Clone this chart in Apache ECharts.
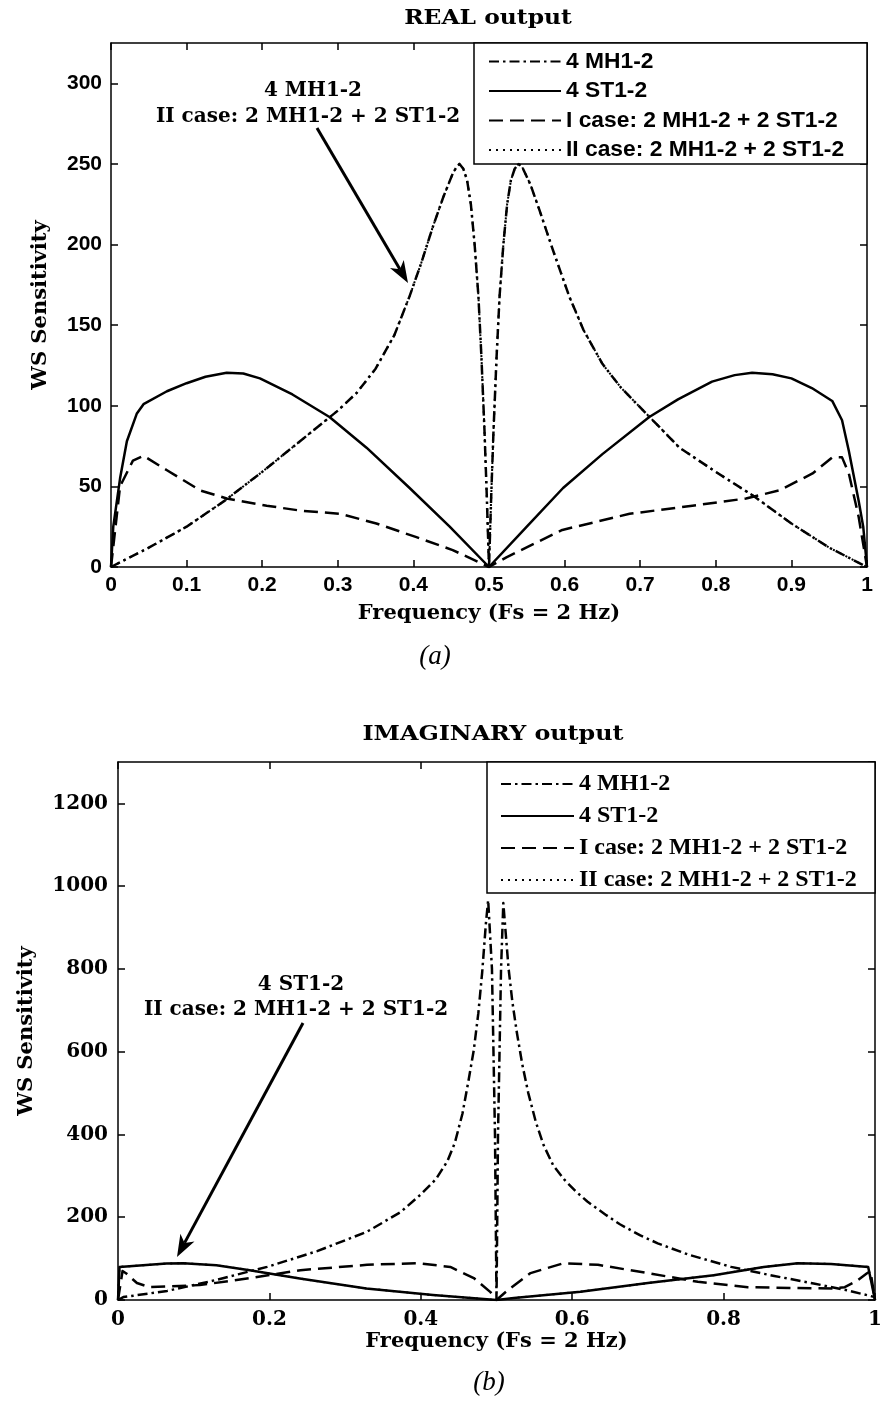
<!DOCTYPE html>
<html>
<head>
<meta charset="utf-8">
<title>WS Sensitivity</title>
<script src="https://cdn.jsdelivr.net/npm/echarts@6/dist/echarts.min.js"></script>
<style>
html, body { margin: 0; padding: 0; background: #fff; }
#chart { width: 881px; height: 1410px; }
</style>
</head>
<body>
<div id="chart"></div>
<script>
// (a) REAL output -- frequency / sensitivity pairs
const realFreqMh = [0, 0.05, 0.1, 0.15, 0.2, 0.25, 0.3, 0.325, 0.35, 0.375, 0.395, 0.41, 0.425, 0.44, 0.452, 0.457, 0.461, 0.466, 0.471, 0.476, 0.481, 0.486, 0.49, 0.494, 0.497, 0.5, 0.503, 0.506, 0.51, 0.514, 0.519, 0.524, 0.529, 0.534, 0.539, 0.544, 0.555, 0.567, 0.585, 0.606, 0.625, 0.65, 0.675, 0.7, 0.725, 0.752, 0.8, 0.85, 0.9, 0.95, 1]
const realValMh = [0, 12, 25, 41, 59, 78, 97, 108, 123, 144, 168, 188, 210, 230, 244, 248, 250, 247, 240, 225, 200, 168, 130, 85, 45, 0, 45, 85, 130, 168, 200, 225, 240, 247, 250, 248, 237, 221, 196, 168, 147, 126, 111, 99, 87, 74, 59, 44, 27, 12, 0]

const realFreqSt = [0, 0.003, 0.012, 0.021, 0.034, 0.043, 0.074, 0.1, 0.125, 0.153, 0.175, 0.197, 0.24, 0.289, 0.338, 0.395, 0.448, 0.5, 0.55, 0.598, 0.65, 0.712, 0.75, 0.795, 0.825, 0.848, 0.875, 0.9, 0.927, 0.954, 0.967, 0.976, 0.989, 0.995, 1]
const realValSt = [0, 25, 55, 78, 95, 101, 109, 114, 118, 120.5, 120, 117, 107, 93, 74, 49, 25, 0, 25, 49, 70, 93, 104, 115, 119, 120.5, 119.5, 117, 111, 103, 91, 72, 41, 25, 0]

const realFreqI = [0, 0.012, 0.029, 0.043, 0.074, 0.118, 0.153, 0.206, 0.25, 0.303, 0.351, 0.404, 0.452, 0.5, 0.523, 0.597, 0.686, 0.769, 0.84, 0.884, 0.928, 0.954, 0.967, 0.976, 0.989, 1]
const realValI = [0, 50, 66, 69, 60, 47.5, 42.5, 38, 35, 33, 27, 18.5, 10.5, 0, 6, 23, 33, 38, 42.5, 47.5, 58, 68, 68, 58, 31, 0]

// II case lies exactly on 4 MH1-2 here (that's what the arrow says)
const realFreqII = realFreqMh
const realValII = realValMh

// (b) IMAGINARY output
const imagFreqMh = [0, 0.007, 0.065, 0.122, 0.197, 0.263, 0.329, 0.373, 0.4, 0.42, 0.435, 0.445, 0.455, 0.463, 0.47, 0.476, 0.481, 0.486, 0.489, 0.494, 0.498, 0.5, 0.502, 0.506, 0.509, 0.512, 0.516, 0.521, 0.527, 0.534, 0.542, 0.552, 0.562, 0.575, 0.59, 0.605, 0.62, 0.645, 0.663, 0.69, 0.713, 0.753, 0.81, 0.867, 0.919, 0.964, 1]
const imagValMh = [0, 7, 22, 45, 80, 118, 165, 212, 255, 292, 335, 380, 450, 530, 604, 693, 790, 910, 966, 800, 400, 0, 400, 800, 959, 890, 800, 720, 645, 570, 500, 430, 375, 325, 290, 262, 238, 205, 183, 156, 137, 110, 80, 58, 40, 23, 7]

const imagFreqSt = [0, 0.002, 0.064, 0.086, 0.13, 0.174, 0.24, 0.328, 0.416, 0.5, 0.523, 0.611, 0.7, 0.787, 0.853, 0.898, 0.942, 0.991, 1]
const imagValSt = [0, 80, 88, 89, 84, 72, 52, 28, 12, 0, 5, 20, 41, 60, 80, 89, 87, 80, 0]

const imagFreqI = [0, 0.006, 0.011, 0.025, 0.042, 0.108, 0.175, 0.241, 0.329, 0.395, 0.439, 0.47, 0.492, 0.5, 0.515, 0.545, 0.589, 0.634, 0.7, 0.766, 0.832, 0.898, 0.946, 0.96, 0.975, 0.989, 0.994, 1]
const imagValI = [0, 70, 64, 41, 31, 36, 53, 72, 85, 89, 80, 53, 19, 0, 24, 65, 89, 85, 65, 44, 31, 29, 28, 31, 45, 64, 70, 0]

// here II case follows 4 ST1-2
const imagFreqII = imagFreqSt
const imagValII = imagValSt

const seriesNames = ['4 MH1-2', '4 ST1-2', 'I case: 2 MH1-2 + 2 ST1-2', 'II case: 2 MH1-2 + 2 ST1-2']

const sansBold = "'Liberation Sans', Arial, sans-serif"
const wideSerif = "'DejaVu Serif', serif"
const timesSerif = "'Liberation Serif', 'Times New Roman', serif"

// line looks, one per curve
const dashDot = [10, 4, 2.5, 4]
const dashed = [14, 7]
const dotted = [2, 5]

function pairs(fs, vs) {
  return fs.map((f, i) => [f, vs[i]])
}

function curve(name, fs, vs, type, grid, width) {
  return {
    name: name,
    type: 'line',
    xAxisIndex: grid * 2,
    yAxisIndex: grid * 2,
    data: pairs(fs, vs),
    symbol: 'none',
    showSymbol: false,
    silent: true,
    lineStyle: { color: '#000', width: width || 2.5, type: type, join: 'round' },
    itemStyle: { color: '#000' }
  }
}

// matlab style box: axis on every side, ticks pointing in
function boxAxis(grid, pos, min, max, interval, labels, font, fontSize, margin) {
  const isY = pos === 'left' || pos === 'right'
  return {
    type: 'value',
    gridIndex: grid,
    position: pos,
    min: min,
    max: max,
    interval: interval,
    axisLine: { show: true, onZero: false, lineStyle: { color: '#000', width: 1.5 } },
    axisTick: { show: true, inside: true, length: 7, lineStyle: { color: '#000', width: 1.5 } },
    splitLine: { show: false },
    axisLabel: {
      show: labels,
      showMinLabel: true,
      showMaxLabel: !isY,
      formatter: v => String(v),
      color: '#000',
      fontFamily: font,
      fontWeight: 'bold',
      fontSize: fontSize,
      margin: margin
    }
  }
}

function named(axis, name, gap) {
  axis.name = name
  axis.nameLocation = 'middle'
  axis.nameGap = gap
  axis.nameTextStyle = { color: '#000', fontFamily: wideSerif, fontWeight: 'bold', fontSize: 21 }
  return axis
}

function txt(x, y, text, font, sx) {
  return {
    type: 'text',
    x: x,
    y: y,
    scaleX: sx || 1,
    z: 10,
    silent: true,
    style: { text: text, fill: '#000', font: font, align: 'center', verticalAlign: 'middle' }
  }
}

// arrow: shaft + notched head, pixel coords of tail and tip
function arrowShape(x0, y0, x1, y1) {
  const len = Math.hypot(x1 - x0, y1 - y0)
  const ux = (x1 - x0) / len, uy = (y1 - y0) / len
  const nx = -uy, ny = ux
  const head = 22, half = 8, notch = 16
  const bx = x1 - head * ux, by = y1 - head * uy
  return [
    { type: 'line', z: 10, silent: true, shape: { x1: x0, y1: y0, x2: x1 - notch * ux, y2: y1 - notch * uy }, style: { stroke: '#000', lineWidth: 3 } },
    { type: 'polygon', z: 10, silent: true, shape: { points: [[x1, y1], [bx + half * nx, by + half * ny], [x1 - notch * ux, y1 - notch * uy], [bx - half * nx, by - half * ny]] }, style: { fill: '#000' } }
  ]
}

const chart = echarts.init(document.getElementById('chart'))

const option = {
  animation: false,
  backgroundColor: '#fff',
  grid: [
    { left: 111, top: 43, width: 756, height: 524, outerBoundsMode: 'none' },
    { left: 118, top: 762, width: 757, height: 538, outerBoundsMode: 'none' }
  ],
  xAxis: [
    named(boxAxis(0, 'bottom', 0, 1, 0.1, true, sansBold, 21, 8), 'Frequency (Fs = 2 Hz)', 36),
    boxAxis(0, 'top', 0, 1, 0.1, false),
    named(boxAxis(1, 'bottom', 0, 1, 0.2, true, wideSerif, 20, 10), 'Frequency (Fs = 2 Hz)', 26),
    boxAxis(1, 'top', 0, 1, 0.2, false)
  ],
  yAxis: [
    named(boxAxis(0, 'left', 0, 325, 50, true, sansBold, 21, 9), 'WS Sensitivity', 60),
    boxAxis(0, 'right', 0, 325, 50, false),
    named(boxAxis(1, 'left', 0, 1300, 200, true, wideSerif, 20, 10), 'WS Sensitivity', 81),
    boxAxis(1, 'right', 0, 1300, 200, false)
  ],
  legend: [
    {
      data: seriesNames,
      orient: 'vertical',
      left: 488,
      top: 50,
      padding: 0,
      itemWidth: 72,
      itemHeight: 14,
      itemGap: 6.5,
      selectedMode: false,
      itemStyle: { opacity: 0 },
      textStyle: { color: '#000', fontFamily: sansBold, fontWeight: 'bold', fontSize: 22.8 }
    },
    {
      data: seriesNames,
      orient: 'vertical',
      left: 500,
      top: 772,
      padding: 0,
      itemWidth: 73,
      itemHeight: 14,
      itemGap: 8,
      selectedMode: false,
      itemStyle: { opacity: 0 },
      textStyle: { color: '#000', fontFamily: timesSerif, fontWeight: 'bold', fontSize: 24 }
    }
  ],
  graphic: [
    // legend frames
    { type: 'rect', z: 3, silent: true, shape: { x: 474, y: 43, width: 393, height: 121 }, style: { fill: '#fff', stroke: '#000', lineWidth: 1.5 } },
    { type: 'rect', z: 3, silent: true, shape: { x: 487, y: 762, width: 388, height: 131 }, style: { fill: '#fff', stroke: '#000', lineWidth: 1.5 } },
    // titles
    txt(488, 19, 'REAL output', 'bold 20px ' + wideSerif, 1.17),
    txt(493, 735, 'IMAGINARY output', 'bold 20px ' + wideSerif, 1.19),
    // annotations
    txt(313, 91, '4 MH1-2', 'bold 20px ' + wideSerif),
    txt(308, 117, 'II case: 2 MH1-2 + 2 ST1-2', 'bold 20px ' + wideSerif),
    txt(301, 985, '4 ST1-2', 'bold 20px ' + wideSerif),
    txt(296, 1010, 'II case: 2 MH1-2 + 2 ST1-2', 'bold 20px ' + wideSerif),
    ...arrowShape(317, 128, 408, 283),
    ...arrowShape(303, 1023, 177, 1257),
    // panel letters
    txt(435, 657, '(a)', 'italic 27px ' + timesSerif),
    txt(489, 1383, '(b)', 'italic 27px ' + timesSerif)
  ],
  series: [
    curve(seriesNames[0], realFreqMh, realValMh, dashDot, 0),
    curve(seriesNames[1], realFreqSt, realValSt, 'solid', 0),
    curve(seriesNames[2], realFreqI, realValI, dashed, 0),
    curve(seriesNames[3], realFreqII, realValII, dotted, 0, 2),
    curve(seriesNames[0], imagFreqMh, imagValMh, dashDot, 1),
    curve(seriesNames[1], imagFreqSt, imagValSt, 'solid', 1),
    curve(seriesNames[2], imagFreqI, imagValI, dashed, 1),
    curve(seriesNames[3], imagFreqII, imagValII, dotted, 1, 2)
  ]
}

chart.setOption(option)
</script>
</body>
</html>
